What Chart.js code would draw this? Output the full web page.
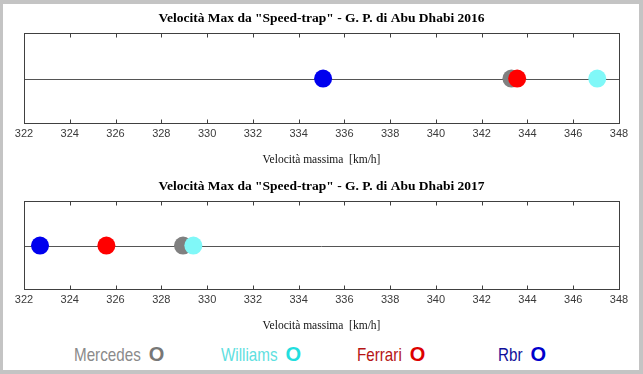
<!DOCTYPE html>
<html>
<head>
  <script src="https://cdn.jsdelivr.net/npm/chart.js@4/dist/chart.umd.min.js"></script>
  <style>
    html, body { margin: 0; padding: 0; }
    body { width: 643px; height: 374px; background: #c4c4c4; position: relative; overflow: hidden; }
    #page { position: absolute; left: 3px; top: 4px; width: 636px; height: 366px; background: #fff; }
    .panel { position: absolute; left: 0; }
    #legend span.item { position: absolute; top: 344px; white-space: nowrap; font-family: "Liberation Sans", Arial, sans-serif; }
    #legend .name { font-size: 19px; display: inline-block; transform: scaleX(0.8); transform-origin: left center; }
    #legend .mark { font-size: 20px; font-weight: bold; position: absolute; top: -1px; }
  </style>
</head>
<body>
  <div id="page"></div>
  <canvas id="c2016" class="panel" width="643" height="170" style="top:0px"></canvas>
  <canvas id="c2017" class="panel" width="643" height="168" style="top:168px"></canvas>
  <div id="legend"></div>

  <script type="text/javascript">
    // data
    var teams = ['Mercedes', 'Williams', 'Ferrari', 'Rbr'];
    var speed2016 = [343.3, 347.05, 343.55, 335.07];
    var speed2017 = [328.95, 329.4, 325.6, 322.7];
    var xMin = 322, xMax = 348, xStep = 2;

    var dotColors = ['#808080', '#80f8f8', '#ff0000', '#0000ee'];
    var nameColors = ['#8a8a8a', '#5ee0e0', '#b51515', '#10109a'];
    var markColors = ['#777777', '#22dede', '#dd0000', '#0000cc'];
    var legendLeft = [74, 221, 357, 498];

    // box, middle line and inward ticks (matlab look)
    var framePlugin = {
      id: 'frame',
      beforeDatasetsDraw: function(chart) {
        var ctx = chart.ctx, a = chart.chartArea;
        var y = chart.scales.y;
        ctx.save();
        ctx.strokeStyle = '#555';
        ctx.lineWidth = 1;
        var yMid = Math.round(y.getPixelForValue(0)) + 0.5;
        ctx.beginPath();
        ctx.moveTo(a.left, yMid);
        ctx.lineTo(a.right, yMid);
        ctx.stroke();
        ctx.restore();
      },
      afterDraw: function(chart) {
        var ctx = chart.ctx, a = chart.chartArea;
        var x = chart.scales.x;
        ctx.save();
        ctx.strokeStyle = '#404040';
        ctx.lineWidth = 1;
        var l = Math.round(a.left) + 0.5, r = Math.round(a.right) + 0.5;
        var t = Math.round(a.top) - 0.5, b = Math.round(a.bottom) + 0.5;
        ctx.strokeRect(l, t, r - l, b - t);
        ctx.beginPath();
        x.ticks.forEach(function(tk) {
          if (tk.value <= xMin || tk.value >= xMax) return;
          var px = Math.round(x.getPixelForValue(tk.value)) + 0.5;
          ctx.moveTo(px, t); ctx.lineTo(px, t + 4);
          ctx.moveTo(px, b); ctx.lineTo(px, b - 4);
        });
        ctx.stroke();
        ctx.restore();
      }
    };

    function makeChart(id, title, values) {
      var datasets = teams.map(function(team, i) {
        return {
          label: team,
          data: [{ x: values[i], y: 0 }],
          backgroundColor: dotColors[i],
          borderWidth: 0,
          pointRadius: 9,
          pointHoverRadius: 9,
          order: teams.length - i
        };
      });
      return new Chart(document.getElementById(id), {
        type: 'scatter',
        data: { datasets: datasets },
        options: {
          responsive: false,
          animation: false,
          events: [],
          layout: { padding: { left: 24, right: 24, top: 0, bottom: 0 } },
          plugins: {
            legend: { display: false },
            tooltip: { enabled: false },
            title: {
              display: true,
              text: title,
              color: '#000',
              font: { family: 'Liberation Serif', size: 13.5, weight: 'bold', lineHeight: 1.2 },
              padding: { top: 10, bottom: 8 }
            }
          },
          scales: {
            x: {
              type: 'linear',
              min: xMin,
              max: xMax,
              grid: { display: false, drawTicks: false },
              border: { display: false },
              ticks: {
                stepSize: xStep,
                padding: 4,
                color: '#3a3a3a',
                font: { family: 'Liberation Sans', size: 11, lineHeight: 1.2 }
              },
              title: {
                display: true,
                text: 'Velocità massima  [km/h]',
                color: '#111',
                font: { family: 'Liberation Serif', size: 11.5, lineHeight: 1.2 },
                padding: { top: 9, bottom: 3 }
              }
            },
            y: { display: false, min: -1, max: 1 }
          }
        },
        plugins: [framePlugin]
      });
    }

    makeChart('c2016', 'Velocità Max da "Speed-trap" - G. P. di Abu Dhabi 2016', speed2016);
    makeChart('c2017', 'Velocità Max da "Speed-trap" - G. P. di Abu Dhabi 2017', speed2017);

    // legend under the charts
    var legend = document.getElementById('legend');
    teams.forEach(function(team, i) {
      var item = document.createElement('span');
      item.className = 'item';
      item.style.left = legendLeft[i] + 'px';
      var name = document.createElement('span');
      name.className = 'name';
      name.style.color = nameColors[i];
      name.textContent = team;
      var mark = document.createElement('span');
      mark.className = 'mark';
      mark.style.color = markColors[i];
      mark.textContent = 'O';
      item.appendChild(name);
      item.appendChild(mark);
      legend.appendChild(item);
      // place the O just after the squeezed name
      mark.style.left = (name.getBoundingClientRect().width + 8) + 'px';
    });
  </script>
</body>
</html>
